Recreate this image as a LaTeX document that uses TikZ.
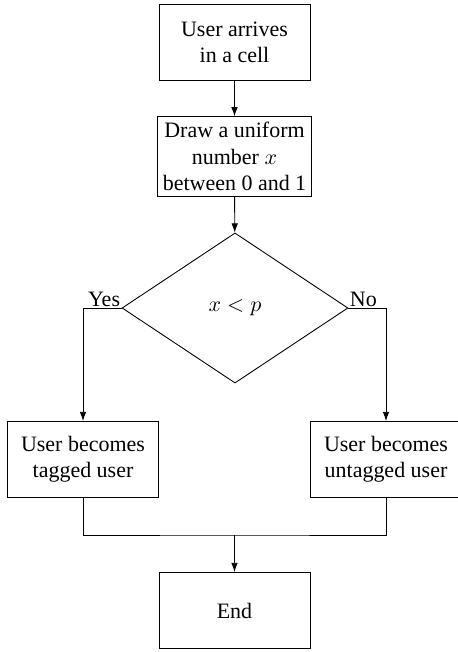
\documentclass[tikz,border=0pt]{standalone}
\usepackage{amsmath}
\usepackage{fontspec}
\setmainfont{Liberation Serif}
\usepackage{tikz}
\usetikzlibrary{shapes.geometric,arrows.meta}

\tikzset{
	box/.style={draw, rectangle, align=center, inner sep=2.5pt,
		minimum width=68.7pt, minimum height=34.6pt},
	decision/.style={draw, diamond, inner sep=0pt,
		minimum width=102.8pt, minimum height=68.3pt},
	arr/.style={-{Latex[length=4.2pt,width=3pt]}}
}

\begin{document}
\begin{tikzpicture}[x=0.455pt, y=-0.455pt]
			\useasboundingbox (0,0) rectangle (458,652);
			% Nodes
			\node[box] (arrive) at (234.5,42.5) {User arrives\\in a cell};
			\node[box] (uniform) at (234.5,156.5) {Draw a uniform\\number $x$\\between 0 and 1};
			\node[decision] (test) at (235,308) {$x<p$};
			\node[box] (tagged) at (83,459.5) {User becomes\\tagged user};
			\node[box] (untagged) at (386,459.5) {User becomes\\untagged user};
			\node[box] (finish) at (234.5,610.5) {End};
			\coordinate (join) at (234.5,535);
			% Connectors
			\draw[arr] (arrive) -- (uniform);
			\draw[arr] (uniform) -- (test);
			\draw[arr] (test.west) node[anchor=south east, inner sep=0.5pt] {Yes} -| (tagged.north);
			\draw[arr] (test.east) node[anchor=south west, inner sep=0.5pt] {No} -| (untagged.north);
			\draw (tagged.south) |- (join) -| (untagged.south);
			\draw[arr] (join) -- (finish);
		\end{tikzpicture}
\end{document}
